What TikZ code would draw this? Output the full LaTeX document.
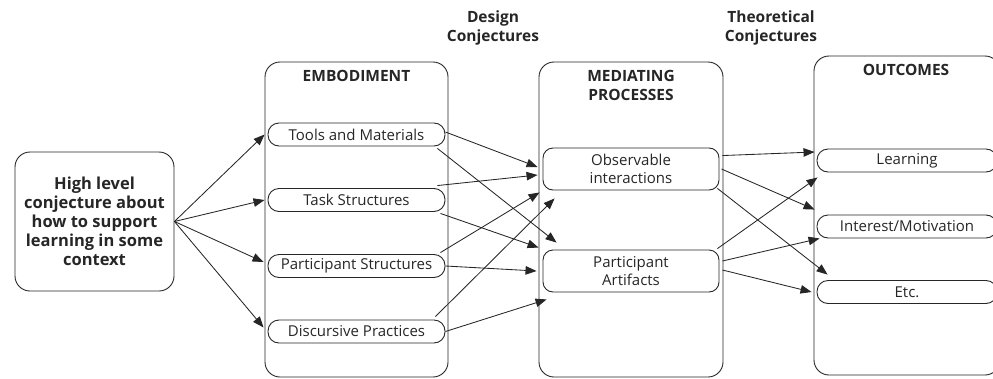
\documentclass[tikz,border=0pt]{standalone}
\usepackage{fontspec}
\setmainfont{Open Sans}
\usetikzlibrary{arrows.meta,positioning}

\begin{document}
\begin{tikzpicture}[x=1pt,y=-1pt,
  column/.style={draw=black!85,rounded corners=15pt,line width=0.9pt,inner sep=0pt},
  pill/.style={draw=black!85,rounded corners=11pt,line width=0.9pt,minimum width=177pt,minimum height=23pt,inner sep=0pt,text=black!85,font=\fontsize{15}{18}\selectfont},
  bigpill/.style={pill,rounded corners=10pt,minimum width=176pt,minimum height=42pt,align=center},
  title/.style={text=black!85,font=\bfseries\fontsize{15.5}{19}\selectfont,align=center},
  link/.style={-{Triangle[length=11pt,width=8.5pt]},line width=0.85pt,black!85}]

\useasboundingbox (0,0) rectangle (993,378);

% the columns
\node[column,minimum width=159pt,minimum height=139pt,title,font=\bfseries\fontsize{16.5}{19}\selectfont] (hl) at (94.5,221.5)
  {High level\\conjecture about\\how to support\\learning in some\\context};
\node[column,minimum width=183pt,minimum height=315pt] (emb) at (356.5,219.5) {};
\node[column,minimum width=184pt,minimum height=315pt] (med) at (631,219.5) {};
\node[column,minimum width=186pt,minimum height=319pt] (out) at (907,215.5) {};

% headings
\node[title] (embt) at (356.5,76) {EMBODIMENT};
\node[title] (medt) at (631,85) {MEDIATING\\PROCESSES};
\node[title] (outt) at (906,70) {OUTCOMES};
\node[title] (dc) at (493,28) {Design\\Conjectures};
\node[title] (tc) at (771,28) {Theoretical\\Conjectures};

% embodiment
\node[pill] (tools) at (356.5,134.5) {Tools and Materials};
\node[pill] (task) at (356.5,200) {Task Structures};
\node[pill] (ps) at (356.5,266) {Participant Structures};
\node[pill] (dp) at (356.5,331.5) {Discursive Practices};

% mediating processes
\node[bigpill] (obs) at (631,169) {Observable\\interactions};
\node[bigpill] (pa) at (631,271) {Participant\\Artifacts};

% outcomes
\node[pill,minimum width=180pt] (learn) at (907,160.5) {Learning};
\node[pill,minimum width=180pt] (int) at (907,226.5) {Interest/Motivation};
\node[pill,minimum width=180pt] (etc) at (907,292) {Etc.};

% the arrows
\draw[link] (hl.east) -- ([xshift=-3pt]tools.west);
\draw[link] (hl.east) -- ([xshift=-3pt]task.west);
\draw[link] (hl.east) -- ([xshift=-4pt,yshift=4pt]ps.west);
\draw[link] (hl.east) -- ([xshift=-4pt,yshift=4pt]dp.west);

% design conjectures
\draw[link] ([yshift=2.5pt]tools.east) -- ([xshift=-5pt,yshift=2pt]obs.west);
\draw[link] ([xshift=-8pt,yshift=-2pt]tools.south east) -- ([xshift=14pt,yshift=7pt]pa.north west);
\draw[link] ([xshift=-8pt,yshift=2.5pt]task.north east) -- ([xshift=-5pt,yshift=-6pt]obs.west);
\draw[link] ([xshift=-5pt,yshift=-1.5pt]task.south east) -- ([xshift=-4pt,yshift=2pt]pa.north west);
\draw[link] ([xshift=-5pt,yshift=1.5pt]ps.north east) -- ([xshift=-3pt,yshift=-2pt]obs.south west);
\draw[link] (ps.east) -- ([xshift=-6pt]pa.west);
\draw[link] ([xshift=-10pt,yshift=3pt]dp.north east) -- ([xshift=12pt,yshift=-8pt]obs.south west);
\draw[link] (dp.east) -- ([xshift=4pt,yshift=-7pt]pa.south west);

% theoretical conjectures
\draw[link] ([xshift=3pt,yshift=-8pt]obs.north east) -- ([xshift=-2pt,yshift=8.5pt]learn.west);
\draw[link] ([xshift=2pt]obs.east) -- ([xshift=-2pt,yshift=5pt]int.north west);
\draw[link] ([xshift=-2pt,yshift=2pt]obs.south east) -- ([xshift=11pt,yshift=5.5pt]etc.north west);
\draw[link] ([xshift=-2pt,yshift=1pt]pa.north east) -- ([xshift=1pt,yshift=-5pt]learn.south west);
\draw[link] ([xshift=3pt,yshift=10pt]pa.east) -- ([xshift=3pt]int.south west);
\draw[link] ([xshift=3pt,yshift=1pt]pa.east) -- ([xshift=-5pt]etc.west);

\end{tikzpicture}
\end{document}
